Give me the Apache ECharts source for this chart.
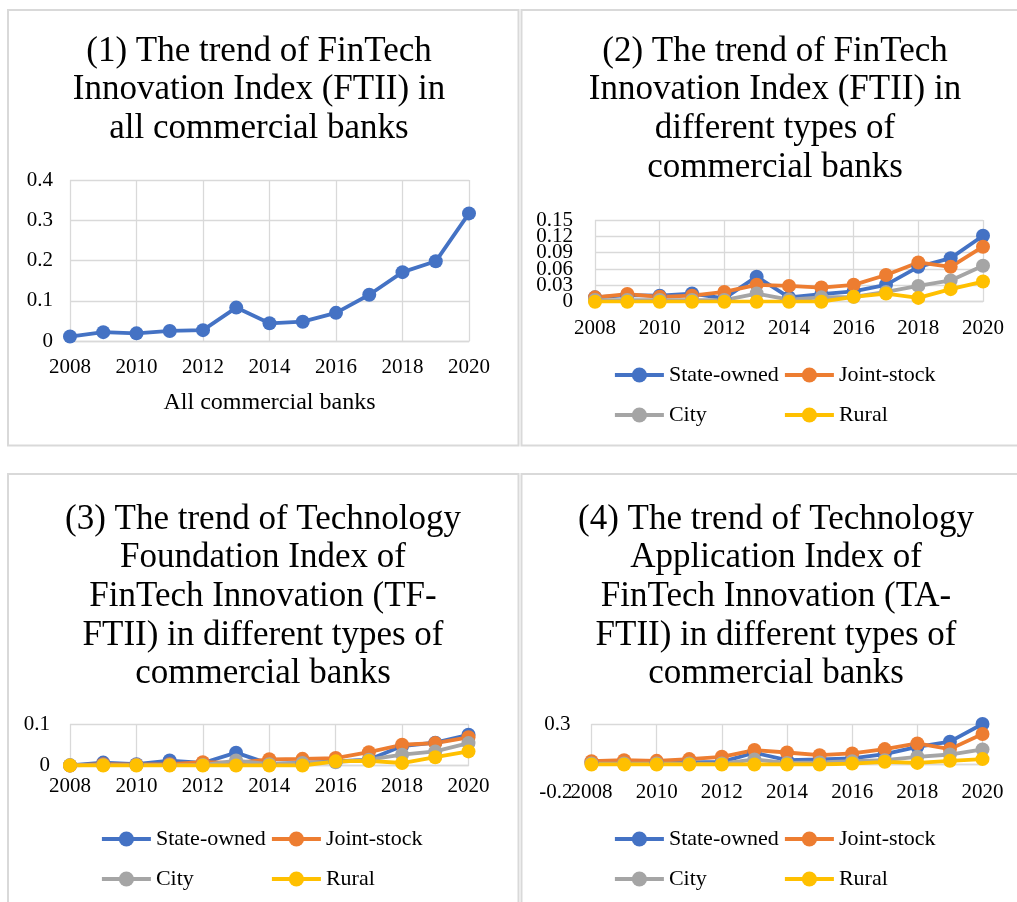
<!DOCTYPE html>
<html>
<head>
<meta charset="utf-8">
<script src="https://cdn.jsdelivr.net/npm/echarts@6/dist/echarts.min.js"></script>
<style>
html,body{margin:0;padding:0;background:#fff;}
#chart{width:1017px;height:902px;}
</style>
</head>
<body>
<div id="chart"></div>
<script>
// ---- data ----
const years = ['2008','2009','2010','2011','2012','2013','2014','2015','2016','2017','2018','2019','2020'];
const seriesNames = ['State-owned','Joint-stock','City','Rural'];
const colors = ['#4472C4','#ED7D31','#A5A5A5','#FFC000'];

// (1) FTII, all commercial banks
const ftiiAll = [0.011,0.022,0.019,0.025,0.027,0.083,0.044,0.048,0.070,0.115,0.171,0.198,0.317];

// (2) FTII by bank type
const ftiiState = [0.008,0.012,0.011,0.015,0.006,0.046,0.008,0.014,0.019,0.031,0.064,0.080,0.121];
const ftiiJoint = [0.008,0.014,0.009,0.011,0.018,0.031,0.029,0.026,0.031,0.049,0.072,0.064,0.101];
const ftiiCity  = [0.003,0.003,0.003,0.003,0.003,0.015,0.004,0.008,0.009,0.018,0.029,0.039,0.066];
const ftiiRural = [0.000,0.000,0.000,0.000,0.000,0.000,0.000,0.000,0.009,0.015,0.007,0.023,0.037];
// tick labels of panel (2) value axis
const ftiiTicks = ['0','0.03','0.06','0.09','0.12','0.15'];

// (3) TF-FTII by bank type
const tfState = [0.000,0.007,0.003,0.012,0.006,0.031,0.004,0.006,0.010,0.014,0.047,0.055,0.074];
const tfJoint = [0.000,0.003,0.002,0.003,0.008,0.006,0.015,0.016,0.018,0.032,0.050,0.054,0.068];
const tfCity  = [0.001,0.001,0.001,0.001,0.001,0.012,0.003,0.006,0.008,0.014,0.026,0.034,0.054];
const tfRural = [0.000,0.000,0.000,0.000,0.000,0.000,0.000,0.000,0.010,0.011,0.006,0.020,0.034];

// (4) TA-FTII by bank type
const taState = [0.015,0.015,0.015,0.015,0.020,0.087,0.032,0.037,0.045,0.077,0.131,0.169,0.300];
const taJoint = [0.025,0.032,0.027,0.040,0.057,0.107,0.089,0.069,0.082,0.114,0.156,0.114,0.226];
const taCity  = [0.007,0.007,0.007,0.007,0.007,0.037,0.012,0.015,0.025,0.032,0.057,0.074,0.112];
const taRural = [0.000,0.000,0.000,0.000,0.000,0.000,0.000,0.000,0.007,0.020,0.012,0.027,0.040];

const titles = [
  '(1) The trend of FinTech\nInnovation Index (FTII) in\nall commercial banks',
  '(2) The trend of FinTech\nInnovation Index (FTII) in\ndifferent types of\ncommercial banks',
  '(3) The trend of Technology\nFoundation Index of\nFinTech Innovation (TF-\nFTII) in different types of\ncommercial banks',
  '(4) The trend of Technology\nApplication Index of\nFinTech Innovation (TA-\nFTII) in different types of\ncommercial banks'
];
const xName1 = 'All commercial banks';

// ---- chart ----
const FONT = 'Liberation Serif';
const GRID_C = '#d9d9d9';
const chart = echarts.init(document.getElementById('chart'), null, {renderer:'canvas'});

function titleOpt(text, x, y){
  return {text:text, left:x, top:y, textAlign:'center', padding:0,
    textStyle:{fontFamily:FONT, fontSize:35, lineHeight:38.7, fontWeight:'normal', color:'#000'}};
}
function xAx(gi, margin, extra){
  return Object.assign({
    gridIndex:gi, type:'category', data:years, boundaryGap:false,
    axisLine:{show:true, lineStyle:{color:GRID_C, width:1.3}},
    axisTick:{show:false, interval:1},
    axisLabel:{interval:1, fontFamily:FONT, fontSize:21, color:'#000', margin:margin},
    splitLine:{show:true, interval:1, lineStyle:{color:GRID_C, width:1.3}}
  }, extra||{});
}
function yLabel(margin, extra){
  return Object.assign({fontFamily:FONT, fontSize:21, color:'#000', margin:margin,
    showMinLabel:true, showMaxLabel:true}, extra||{});
}
function yAx(gi, min, max, interval, margin, extra){
  return Object.assign({
    gridIndex:gi, type:'value', min:min, max:max, interval:interval,
    axisLine:{show:false}, axisTick:{show:false},
    axisLabel:yLabel(margin),
    splitLine:{show:true, lineStyle:{color:GRID_C, width:1.3}}
  }, extra||{});
}
function line(name, data, color, gi){
  return {name:name, type:'line', data:data, xAxisIndex:gi, yAxisIndex:gi,
    symbol:'circle', symbolSize:14, showSymbol:true,
    lineStyle:{width:3.8, color:color}, itemStyle:{color:color}, silent:true};
}

const panels = [
  [ftiiState, ftiiJoint, ftiiCity, ftiiRural],
  [tfState, tfJoint, tfCity, tfRural],
  [taState, taJoint, taCity, taRural]
];

const series = [line('All commercial banks', ftiiAll, colors[0], 0)];
panels.forEach((p, k) => {
  p.forEach((d, i) => series.push(line(seriesNames[i], d, colors[i], k+1)));
});

// legends: 2 columns x 2 rows per panel
const legendPos = [
  {cols:[613,783], rows:[376,416]},
  {cols:[100,270], rows:[840,880]},
  {cols:[613,783], rows:[840,880]}
];
const legends = [];
legendPos.forEach(lp => {
  seriesNames.forEach((n, i) => {
    legends.push({data:[n], left:lp.cols[i%2], top:lp.rows[Math.floor(i/2)]-12,
      padding:0, itemWidth:49, itemHeight:19, selectedMode:false,
      lineStyle:{width:3.8}, itemStyle:{},
      textStyle:{fontFamily:FONT, fontSize:22, color:'#000'}});
  });
});

const border = (x,y,w,h) => ({type:'rect', shape:{x:x,y:y,width:w,height:h},
  style:{fill:'none', stroke:GRID_C, lineWidth:2}, silent:true});

const hideZero = v => (v === 0 ? '' : String(v));

const option = {
  animation:false,
  backgroundColor:'#fff',
  title:[
    titleOpt(titles[0], 259, 32),
    titleOpt(titles[1], 775, 32),
    titleOpt(titles[2], 263, 500),
    titleOpt(titles[3], 776, 500)
  ],
  graphic:[
    border(8,10,510.5,435.5),
    border(521.5,10,510,435.5),
    border(8,474,510.5,440),
    border(521.5,474,510,440)
  ],
  legend:legends,
  grid:[
    {left:70, top:180, width:399, height:161},
    {left:595, top:220, width:388, height:81.7},
    {left:70, top:724, width:398.5, height:41.5},
    {left:591.5, top:724, width:391, height:40.5},
    {left:591.5, top:764.5, width:391, height:27.5},
    {left:595, top:220, width:388, height:81.7}
  ],
  xAxis:[
    xAx(0, 16, {name:xName1, nameLocation:'middle', nameGap:50,
      nameTextStyle:{fontFamily:FONT, fontSize:24, color:'#000'}}),
    xAx(1, 16),
    xAx(2, 10),
    xAx(3, 17),
    {gridIndex:4, type:'value', show:false, min:0, max:1},
    {gridIndex:5, type:'value', show:false, min:0, max:1}
  ],
  yAxis:[
    yAx(0, 0, 0.4, 0.1, 17),
    yAx(1, 0, 0.15, 0.03, 22, {axisLabel:{show:false}}),
    yAx(2, 0, 0.1, 0.1, 20),
    yAx(3, 0, 0.3, 0.3, 21, {axisLabel:yLabel(21, {formatter:hideZero})}),
    yAx(4, -0.2, 0, 0.2, 19, {splitLine:{show:false},
      axisLabel:yLabel(19, {formatter:hideZero})}),
    {gridIndex:5, type:'category', data:ftiiTicks, boundaryGap:false,
      axisLine:{show:false}, axisTick:{show:false}, splitLine:{show:false},
      axisLabel:{interval:0, fontFamily:FONT, fontSize:21, color:'#000', margin:22}}
  ],
  series:series
};
chart.setOption(option);
</script>
</body>
</html>
